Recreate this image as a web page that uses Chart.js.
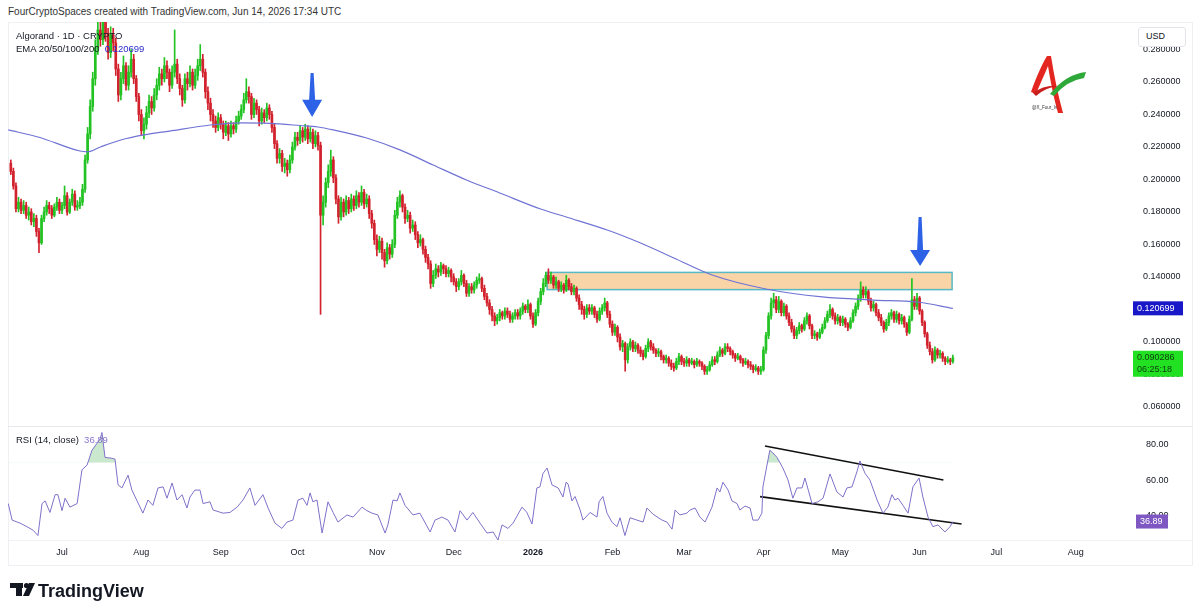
<!DOCTYPE html>
<html>
<head>
<meta charset="utf-8">
<script src="https://cdn.jsdelivr.net/npm/chart.js@4.4.1/dist/chart.umd.min.js"></script>
<style>
  html, body { margin: 0; padding: 0; background: #fff; }
  body { width: 1200px; height: 615px; position: relative; overflow: hidden;
         font-family: "Liberation Sans", Arial, sans-serif; color: #131722; }
  .abs { position: absolute; }
  #header { left: 8px; top: 6px; font-size: 10px; color: #333; white-space: nowrap; }
  .legend { left: 16px; font-size: 9.5px; white-space: nowrap; color: #131722; }
  #frame { left: 8px; top: 22px; width: 1183px; height: 542px; border: 1px solid #eef0f3; }
  #usd { left: 1138px; top: 27px; width: 48px; height: 20px; border: 1px solid #e3e5ea; border-radius: 3px;
         background: #fff; font-size: 9px; line-height: 17px; padding-left: 7px; box-sizing: border-box; }
</style>
</head>
<body>
<div id="frame" class="abs"></div>
<div class="abs" style="left:8px;top:426px;width:1184px;height:1px;background:#e6e8ec"></div>
<div class="abs" style="left:8px;top:540px;width:1184px;height:1px;background:#f1f2f4"></div>

<canvas id="price" class="abs" style="left:8px;top:22px" width="1192" height="403"></canvas>
<canvas id="rsi" class="abs" style="left:8px;top:427px" width="1192" height="138"></canvas>

<div id="header" class="abs">FourCryptoSpaces created with TradingView.com, Jun 14, 2026 17:34 UTC</div>
<div class="abs legend" style="top:30px">Algorand · 1D · CRYPTO</div>
<div class="abs legend" style="top:43px">EMA 20/50/100/200&nbsp;&nbsp;<span style="color:#2b2bc9">0.120699</span></div>
<div class="abs legend" style="top:434px">RSI (14, close)&nbsp;&nbsp;<span style="color:#8a76c9">36.89</span></div>
<div id="usd" class="abs">USD</div>

<svg class="abs" style="left:0;top:0" width="1200" height="615">
  <!-- author logo -->
  <path d="M1031,92 C1036,78 1042,64 1047,56 L1051,56 C1054,75 1058,95 1063,113 L1058,113 C1053,95 1050,78 1048,66 C1044,76 1039,86 1036,94 Z" fill="#e3261f"/>
  <path d="M1033,93 Q1045,84 1059,86 Q1046,87 1036,96 Z" fill="#c81e1e"/>
  <path d="M1050,94 Q1066,74 1086,72 L1084,78 Q1068,80 1054,96 Z" fill="#2fa83a"/>
  <text x="1032" y="109" font-size="4.5" fill="#333" font-family="Liberation Sans, Arial">@X_Four_Iv</text>
  <!-- TradingView logo -->
  <rect x="10" y="583" width="13" height="5" fill="#131722"/>
  <rect x="16" y="583" width="6" height="13" fill="#131722"/>
  <circle cx="26.5" cy="585.5" r="2.6" fill="#131722"/>
  <polygon points="29,583 35,583 29,596 23,596" fill="#131722"/>
  <text x="38" y="597" font-size="18" font-weight="bold" fill="#131722" font-family="Liberation Sans, Arial">TradingView</text>
</svg>

<script>
const F = '"Liberation Sans", Arial, sans-serif';

// daily candles, day 0 = Jun 11 2025, last = Jun 14 2026
const firstOpen = 0.210;
const closes = [
  .205,.196,.182,.186,.181,.184,.178,.180,.174,.176,
  .168,.161,.176,.180,.184,.182,.178,.183,.186,.181,
  .184,.190,.180,.186,.191,.183,.184,.186,.194,.212,
  .228,.245,.262,.281,.292,.286,.297,.290,.278,.289,
  .284,.268,.252,.262,.270,.258,.266,.274,.262,.251,
  .240,.230,.234,.241,.248,.244,.252,.258,.265,.262,
  .270,.266,.258,.266,.271,.262,.256,.249,.262,.259,
  .266,.258,.264,.270,.274,.266,.254,.247,.240,.236,
  .232,.238,.234,.229,.233,.228,.233,.231,.236,.239,
  .243,.249,.254,.251,.240,.247,.243,.236,.241,.238,
  .244,.240,.232,.222,.213,.216,.208,.210,.206,.212,
  .220,.226,.224,.230,.226,.231,.225,.229,.222,.227,
  .221,.178,.186,.198,.205,.212,.201,.188,.177,.186,
  .180,.187,.182,.188,.184,.190,.186,.192,.185,.188,
  .179,.173,.163,.157,.162,.155,.150,.158,.154,.160,
  .178,.186,.190,.183,.176,.178,.170,.172,.166,.161,
  .163,.157,.152,.148,.136,.141,.145,.143,.147,.145,
  .142,.144,.140,.137,.134,.137,.141,.136,.130,.134,
  .132,.135,.138,.139,.133,.128,.124,.120,.116,.113,
  .115,.118,.116,.119,.117,.114,.116,.118,.116,.119,
  .122,.120,.123,.116,.111,.118,.125,.131,.136,.141,
  .138,.140,.135,.137,.133,.135,.132,.138,.134,.131,
  .133,.127,.123,.120,.117,.121,.119,.121,.117,.114,
  .119,.121,.124,.117,.111,.106,.109,.103,.097,.099,
  .089,.097,.100,.096,.098,.095,.093,.091,.096,.100,
  .097,.095,.093,.094,.091,.089,.090,.087,.085,.084,
  .088,.091,.088,.087,.089,.087,.088,.086,.088,.087,
  .085,.082,.083,.086,.089,.088,.092,.095,.093,.097,
  .096,.094,.092,.090,.091,.089,.087,.088,.086,.085,
  .083,.084,.082,.083,.095,.104,.116,.124,.126,.120,
  .125,.118,.122,.116,.112,.108,.104,.107,.110,.108,
  .113,.116,.110,.104,.105,.103,.106,.109,.113,.117,
  .120,.116,.113,.115,.112,.114,.111,.109,.113,.118,
  .122,.127,.132,.129,.131,.125,.121,.123,.118,.115,
  .112,.108,.112,.116,.118,.114,.117,.113,.115,.111,
  .106,.114,.126,.122,.127,.119,.112,.105,.098,.094,
  .089,.095,.092,.093,.090,.088,.089,.088,.090286
];
const highs = [
  .212,.207,.198,.189,.188,.187,.186,.183,.182,.179,
  .178,.170,.178,.183,.187,.186,.184,.185,.189,.188,
  .186,.196,.192,.188,.194,.193,.187,.189,.197,.215,
  .232,.249,.266,.286,.298,.297,.305,.303,.293,.294,
  .293,.287,.271,.266,.276,.272,.270,.280,.277,.264,
  .253,.243,.238,.245,.252,.251,.256,.262,.269,.268,
  .275,.273,.268,.270,.292,.274,.265,.258,.265,.266,
  .270,.268,.268,.274,.283,.277,.268,.257,.250,.243,
  .239,.241,.240,.236,.236,.235,.236,.235,.239,.242,
  .246,.253,.262,.257,.253,.250,.249,.245,.244,.243,
  .247,.246,.242,.234,.224,.219,.218,.213,.212,.215,
  .223,.229,.229,.233,.232,.234,.233,.232,.231,.230,
  .229,.223,.190,.201,.209,.218,.214,.203,.190,.189,
  .188,.190,.189,.191,.190,.193,.192,.196,.194,.191,
  .190,.181,.175,.166,.165,.164,.157,.161,.160,.163,
  .181,.189,.193,.191,.185,.181,.180,.175,.174,.168,
  .166,.164,.159,.154,.150,.144,.148,.147,.149,.148,
  .147,.146,.145,.142,.139,.139,.144,.142,.138,.136,
  .136,.137,.140,.142,.140,.135,.130,.126,.122,.118,
  .117,.120,.119,.121,.121,.119,.118,.120,.120,.121,
  .124,.123,.126,.124,.118,.120,.127,.133,.139,.143,
  .145,.143,.141,.140,.138,.137,.136,.141,.139,.136,
  .135,.134,.129,.125,.122,.123,.123,.123,.122,.119,
  .121,.123,.127,.125,.119,.113,.111,.110,.105,.101,
  .100,.099,.102,.101,.100,.099,.097,.095,.098,.102,
  .101,.099,.096,.096,.095,.092,.092,.091,.089,.087,
  .090,.093,.092,.090,.091,.090,.090,.089,.090,.089,
  .088,.086,.085,.088,.091,.091,.094,.097,.096,.099,
  .099,.097,.095,.093,.093,.092,.090,.090,.089,.088,
  .086,.086,.085,.085,.097,.106,.118,.127,.130,.128,
  .128,.126,.124,.123,.118,.114,.110,.109,.112,.111,
  .115,.118,.117,.111,.107,.106,.108,.111,.115,.119,
  .123,.121,.118,.117,.116,.116,.115,.112,.115,.120,
  .124,.129,.137,.134,.134,.132,.127,.125,.124,.120,
  .117,.113,.114,.118,.120,.119,.119,.118,.117,.116,
  .112,.116,.139,.128,.130,.128,.120,.113,.106,.100,
  .096,.097,.096,.095,.094,.091,.091,.090,.092
];
const lows = [
  .203,.194,.180,.180,.179,.179,.176,.175,.172,.171,
  .165,.155,.160,.174,.178,.179,.176,.177,.181,.179,
  .179,.182,.178,.179,.184,.181,.181,.182,.184,.192,
  .210,.225,.242,.258,.277,.282,.283,.285,.274,.275,
  .279,.264,.248,.249,.259,.255,.255,.263,.259,.248,
  .236,.227,.225,.231,.238,.240,.242,.249,.255,.258,
  .260,.262,.254,.256,.263,.259,.252,.245,.247,.255,
  .257,.255,.256,.261,.267,.263,.250,.243,.236,.232,
  .229,.230,.231,.225,.227,.224,.226,.228,.229,.234,
  .237,.241,.247,.247,.237,.238,.240,.233,.234,.235,
  .236,.237,.229,.219,.210,.210,.205,.204,.202,.204,
  .210,.218,.221,.222,.223,.224,.222,.223,.219,.220,
  .218,.117,.172,.183,.195,.202,.198,.185,.173,.175,
  .177,.178,.179,.180,.181,.182,.183,.184,.182,.183,
  .176,.170,.160,.153,.155,.151,.146,.148,.151,.152,
  .158,.176,.183,.180,.173,.174,.167,.168,.163,.158,
  .159,.154,.149,.145,.133,.134,.139,.140,.141,.142,
  .140,.140,.137,.135,.131,.132,.135,.134,.128,.128,
  .130,.130,.133,.136,.131,.126,.122,.117,.113,.110,
  .111,.113,.114,.114,.115,.112,.112,.114,.114,.114,
  .117,.118,.118,.114,.109,.110,.116,.123,.129,.134,
  .136,.136,.133,.133,.131,.131,.130,.131,.132,.129,
  .129,.125,.120,.117,.114,.115,.117,.117,.115,.112,
  .113,.117,.119,.115,.109,.104,.104,.100,.095,.094,
  .082,.087,.095,.094,.094,.093,.091,.089,.090,.094,
  .095,.093,.091,.091,.089,.087,.087,.085,.083,.082,
  .083,.086,.086,.085,.085,.085,.086,.084,.085,.085,
  .083,.080,.080,.082,.085,.086,.087,.091,.091,.092,
  .094,.092,.090,.088,.089,.087,.085,.086,.084,.083,
  .081,.082,.080,.080,.082,.093,.102,.114,.121,.118,
  .118,.116,.116,.114,.110,.106,.102,.102,.105,.106,
  .107,.111,.108,.102,.102,.101,.102,.105,.108,.112,
  .115,.114,.111,.111,.110,.110,.109,.107,.108,.112,
  .116,.120,.125,.127,.127,.123,.119,.119,.116,.113,
  .110,.106,.107,.110,.114,.112,.112,.111,.111,.109,
  .104,.105,.113,.120,.120,.117,.110,.103,.096,.092,
  .087,.088,.090,.090,.088,.086,.087,.086,.087
];

// EMA 200, read at sample days
const emaDays   = [-1, 11, 27, 30, 35, 43, 52, 62, 78, 90, 101, 113, 120, 126, 139, 152, 165, 178, 191, 207, 217, 233, 246, 259, 274, 295, 317, 337, 354, 368];
const emaValues = [.2305, .226, .2175, .217, .220, .2243, .2274, .2298, .2335, .2348, .2345, .2332, .2323, .2305, .2255, .2182, .2089, .1997, .1917, .1818, .1769, .1689, .1609, .1517, .1412, .1326, .1277, .1258, .1246, .120699];
const emaLast = 0.120699;

// RSI (14), read at sample days
const rsiDays = [
  -1, 0.5, 3.6, 6.3, 8.7, 10.6, 12.2, 13.4, 15.3, 17.3, 18.4, 20.0, 21.2, 23.1, 25.9, 27.8, 29.8, 31.7, 33.7, 34.8,
  35.6, 36.8, 39.5, 40.7, 41.9, 43.4, 45.8, 47.3, 51.6, 53.6, 55.5, 57.5, 59.5, 61.0, 63.0, 64.9, 66.9, 68.8, 70.0, 71.9,
  73.9, 75.1, 77.8, 79.0, 82.9, 85.6, 88.4, 90.7, 93.4, 95.4, 98.5, 100.5, 103.2, 105.9, 107.9, 110.2, 112.2, 114.1, 115.7, 116.9,
  118.0, 119.6, 121.6, 123.9, 125.9, 127.8, 131.3, 133.7, 137.2, 139.1, 141.1, 143.4, 146.2, 147.3, 149.3, 150.9, 152.0, 154.0, 157.1, 159.8,
  163.8, 165.7, 168.4, 170.8, 173.5, 175.5, 178.2, 180.5, 183.3, 186.0, 188.4, 190.3, 191.9, 194.2, 196.2, 199.7, 201.6, 203.6, 205.5, 206.7,
  207.9, 209.5, 211.4, 213.8, 215.7, 216.9, 217.7, 219.2, 220.4, 222.4, 223.5, 226.3, 229.0, 229.8, 231.3, 232.9, 234.8, 236.8, 238.0, 239.9,
  241.9, 244.6, 247.0, 248.5, 250.9, 254.4, 256.3, 258.3, 259.5, 261.4, 264.1, 265.3, 267.3, 269.2, 271.2, 273.9, 275.9, 277.0, 278.2, 280.2,
  281.7, 283.7, 284.8, 286.8, 288.8, 289.9, 291.9, 293.4, 293.8, 295.4, 296.5, 297.7, 299.3, 301.6, 303.6, 305.5, 307.1, 309.1, 310.2, 313.0,
  315.3, 317.3, 320.0, 322.7, 325.1, 326.6, 328.6, 330.5, 331.7, 333.7, 335.6, 338.4, 340.7, 342.6, 344.2, 345.4, 346.6, 348.5, 350.5, 352.4,
  354.8, 356.3, 358.3, 360.2, 362.2, 364.9, 366.9, 368.0
];
const rsiValues = [
  47, 37.7, 36, 34, 32, 29, 47, 48.5, 42, 52, 52, 43, 50, 45, 47, 66, 68.7, 77, 81, 83,
  87, 73, 72.5, 72, 57.5, 55.8, 63, 54.6, 41.6, 49, 46, 55.8, 56.4, 50, 58.6, 49, 52, 44.5, 50.7, 54.6,
  54.6, 47, 48, 43.4, 41.6, 42, 45, 49, 55.8, 46, 52, 44.5, 36, 33, 36.6, 37.7, 49, 50, 46, 53,
  48, 49, 30.4, 48, 42, 36.6, 40.6, 39.4, 45, 43, 41.6, 40.6, 30.4, 35, 49, 48.5, 53, 46, 40.6, 41.6,
  31, 37.7, 39.4, 37.7, 31, 43, 37.7, 42, 36, 30.4, 31, 26.5, 35, 33, 36, 45, 42, 35.5, 55.8, 56.4,
  64, 67, 57.5, 55.8, 50.7, 59, 58, 48.5, 51, 43.4, 37.7, 42, 39.4, 48, 51, 41.6, 36.6, 34, 39, 29,
  39, 37.7, 36.6, 44.5, 41, 37.7, 36.6, 32.6, 43.4, 40.6, 41.6, 43.4, 44.5, 39.4, 36.6, 45, 55.8, 53.5, 59, 54.6,
  48.5, 47, 43.4, 45.6, 44.5, 37.7, 37.7, 41.6, 56.4, 68.7, 77, 75.5, 73, 67, 60.3, 50, 55.8, 55.8, 61.4, 47,
  48, 50, 63.7, 53.5, 50.7, 55.8, 56.4, 64.8, 71, 64, 60.3, 49, 41.6, 45, 52, 49, 50, 46, 41.6, 56.4,
  61.4, 50.7, 39.4, 34, 35, 31, 34, 36.89
];
const rsiLast = 36.89;

// RSI channel lines drawn on the chart
const rsiUpper = [[294.6, 79.4], [364.3, 60.3]];
const rsiLower = [[292.7, 50.9], [371.4, 35.5]];

// supply zone and arrows (day, price)
const zone = { from: 209.5, to: 367.7, top: 0.1428, bottom: 0.1322 };
const arrows = [
  { day: 117.7, top: 0.2655, head: 0.249, tip: 0.2385 },
  { day: 355.2, top: 0.1769, head: 0.1566, tip: 0.1468 }
];

// month ticks on the time axis
const monthDays   = [20, 51, 82, 112, 143, 173, 204, 235, 263, 294, 324, 355, 385, 416];
const monthLabels = ['Jul', 'Aug', 'Sep', 'Oct', 'Nov', 'Dec', '2026', 'Feb', 'Mar', 'Apr', 'May', 'Jun', 'Jul', 'Aug'];

const X_MIN = -1.1, X_MAX = 437.2;
const UP = '#22c322', DOWN = '#d2222d';

// build candle datasets
const opens = closes.map((c, i) => i === 0 ? firstOpen : closes[i - 1]);
const candleColors = closes.map((c, i) => c >= opens[i] ? UP : DOWN);
const wickData = closes.map((c, i) => ({ x: i, y: [lows[i], highs[i]] }));
const bodyData = closes.map((c, i) => ({ x: i, y: [Math.min(opens[i], c), Math.max(opens[i], c)] }));
const emaData = emaDays.map((d, i) => ({ x: d, y: emaValues[i] }));

// keep the axis from shrinking the plot area for its end labels
function fixAxis(width) {
    return s => {
        s.width = width;
        s.paddingTop = 0;
        s.paddingBottom = 0;
    };
}

function tag(ctx, x, yc, w, lines, bg, fg) {
    const h = lines.length * 12 + 2;
    const top = yc - 7;
    ctx.save();
    ctx.fillStyle = bg;
    ctx.fillRect(x, top, w, h);
    ctx.fillStyle = fg;
    ctx.font = '9px ' + F;
    ctx.textBaseline = 'middle';
    lines.forEach((t, i) => ctx.fillText(t, x + 4, top + 7 + i * 12));
    ctx.restore();
}

const priceExtras = {
    id: 'priceExtras',
    beforeDatasetsDraw(chart) {
        const { ctx, scales: { x, y } } = chart;
        const x0 = x.getPixelForValue(zone.from), x1 = x.getPixelForValue(zone.to);
        const y0 = y.getPixelForValue(zone.top), y1 = y.getPixelForValue(zone.bottom);
        ctx.save();
        ctx.fillStyle = 'rgba(248,205,150,0.85)';
        ctx.fillRect(x0, y0, x1 - x0, y1 - y0);
        ctx.strokeStyle = '#56b9c6';
        ctx.lineWidth = 1.5;
        ctx.strokeRect(x0, y0, x1 - x0, y1 - y0);
        ctx.restore();
    },
    afterDatasetsDraw(chart) {
        const { ctx, scales: { x, y } } = chart;
        ctx.save();
        ctx.fillStyle = '#2d62e6';
        arrows.forEach(a => {
            const cx = x.getPixelForValue(a.day);
            const yt = y.getPixelForValue(a.top), yh = y.getPixelForValue(a.head), yp = y.getPixelForValue(a.tip);
            ctx.beginPath();
            ctx.moveTo(cx - 1.5, yt);
            ctx.lineTo(cx + 1.5, yt);
            ctx.lineTo(cx + 3, yh);
            ctx.lineTo(cx + 10, yh);
            ctx.lineTo(cx, yp);
            ctx.lineTo(cx - 10, yh);
            ctx.lineTo(cx - 3, yh);
            ctx.closePath();
            ctx.fill();
        });
        ctx.restore();
    },
    afterDraw(chart) {
        const { ctx, scales: { y } } = chart;
        const ax = y.left + 3;
        tag(ctx, ax, y.getPixelForValue(emaLast), 50, [emaLast.toFixed(6)], '#1818c8', '#fff');
        tag(ctx, ax, y.getPixelForValue(closes[closes.length - 1]), 50,
            [closes[closes.length - 1].toFixed(6), '06:25:18'], '#22e022', '#0d3d0d');
    }
};

new Chart(document.getElementById('price'), {
    type: 'bar',
    data: {
        datasets: [
            { type: 'bar', data: wickData, backgroundColor: candleColors, barThickness: 1, grouped: false, order: 3 },
            { type: 'bar', data: bodyData, backgroundColor: candleColors, barThickness: 2, minBarLength: 1, grouped: false, order: 2 },
            { type: 'line', data: emaData, borderColor: '#7073d4', borderWidth: 1.2, pointRadius: 0, cubicInterpolationMode: 'monotone', order: 1 }
        ]
    },
    options: {
        responsive: false,
        animation: false,
        events: [],
        layout: { padding: 0 },
        plugins: { legend: { display: false }, tooltip: { enabled: false } },
        scales: {
            x: { type: 'linear', min: X_MIN, max: X_MAX, offset: false, display: false },
            y: {
                position: 'right',
                min: 0.0489, max: 0.2969,
                grid: { display: false, drawTicks: false },
                border: { display: false },
                ticks: {
                    stepSize: 0.02, includeBounds: false, padding: 13,
                    color: '#131722', font: { size: 9, family: F },
                    callback: v => v.toFixed(6)
                },
                afterFit: fixAxis(70)
            }
        }
    },
    plugins: [priceExtras]
});

const rsiExtras = {
    id: 'rsiExtras',
    afterDraw(chart) {
        const { ctx, scales: { y } } = chart;
        tag(ctx, y.left + 6, y.getPixelForValue(rsiLast), 32, [rsiLast.toFixed(2)], '#7e57c2', '#fff');
    }
};

new Chart(document.getElementById('rsi'), {
    type: 'line',
    data: {
        datasets: [
            {
                data: rsiDays.map((d, i) => ({ x: d, y: rsiValues[i] })),
                borderColor: '#7f70c9', borderWidth: 1, pointRadius: 0,
                fill: { target: { value: 70 }, above: 'rgba(80,180,90,0.30)', below: 'rgba(0,0,0,0)' }
            },
            { data: rsiUpper.map(p => ({ x: p[0], y: p[1] })), borderColor: '#111', borderWidth: 1.6, pointRadius: 0 },
            { data: rsiLower.map(p => ({ x: p[0], y: p[1] })), borderColor: '#111', borderWidth: 1.6, pointRadius: 0 }
        ]
    },
    options: {
        responsive: false,
        animation: false,
        events: [],
        layout: { padding: 0 },
        plugins: { legend: { display: false }, tooltip: { enabled: false } },
        scales: {
            x: {
                type: 'linear', min: X_MIN, max: X_MAX,
                grid: { display: false, drawTicks: false },
                border: { display: false },
                afterBuildTicks: s => { s.ticks = monthDays.map(v => ({ value: v })); },
                ticks: {
                    autoSkip: false, maxRotation: 0, padding: 7, color: '#131722',
                    font: c => ({ size: 9, family: F, weight: (c.tick && c.tick.value === 204) ? 'bold' : 'normal' }),
                    callback: v => monthLabels[monthDays.indexOf(v)]
                },
                afterFit: s => { s.height = 25; s.paddingLeft = 0; s.paddingRight = 0; }
            },
            y: {
                position: 'right',
                min: 26.5, max: 90.1,
                grid: { display: false, drawTicks: false },
                border: { display: false },
                ticks: {
                    stepSize: 20, includeBounds: false, padding: 16,
                    color: '#131722', font: { size: 9, family: F },
                    callback: v => v.toFixed(2)
                },
                afterFit: fixAxis(70)
            }
        }
    },
    plugins: [rsiExtras]
});
</script>
</body>
</html>
